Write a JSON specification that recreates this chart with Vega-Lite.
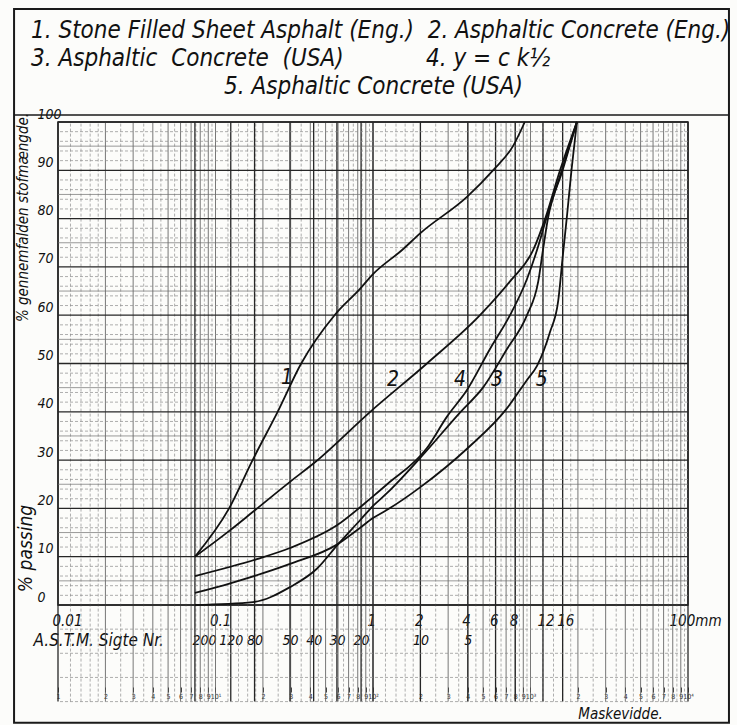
{
  "$schema": "https://vega.github.io/schema/vega-lite/v6.json",
  "width": 630,
  "height": 483,
  "autosize": {"type": "none"},
  "padding": {"left": 58, "top": 122, "right": 49, "bottom": 120},
  "background": "#fcfcfa",
  "config": {
    "font": "Liberation Sans Narrow, DejaVu Sans Condensed, Liberation Sans, sans-serif",
    "view": {"stroke": "#1a1a1a", "strokeWidth": 1.5},
    "axis": {"grid": false, "labelFontStyle": "italic", "titleFontStyle": "italic", "titleFontWeight": "normal", "labelColor": "#111", "titleColor": "#111"}
  },
  "title": {
    "text": ["1. Stone Filled Sheet Asphalt (Eng.)\u00a0\u00a02. Asphaltic Concrete (Eng.)", "3.\u00a0Asphaltic\u00a0\u00a0Concrete\u00a0\u00a0(USA)\u00a0\u00a0\u00a0\u00a0\u00a0\u00a0\u00a0\u00a0\u00a0\u00a0\u00a0\u00a04. y = c k\u00bd"],
    "anchor": "start",
    "frame": "group",
    "dx": -27,
    "dy": 67,
    "offset": 4,
    "fontSize": 24,
    "lineHeight": 28,
    "fontStyle": "italic",
    "fontWeight": "normal",
    "color": "#111"
  },
  "datasets": {
    "vminor": [
      {"v": 0.012}, {"v": 0.014}, {"v": 0.016}, {"v": 0.018}, {"v": 0.025}, {"v": 0.035}, {"v": 0.045}, {"v": 0.055}, {"v": 0.065}, {"v": 0.075}, {"v": 0.085}, {"v": 0.095},
      {"v": 0.12}, {"v": 0.14}, {"v": 0.16}, {"v": 0.18}, {"v": 0.25}, {"v": 0.35}, {"v": 0.45}, {"v": 0.55}, {"v": 0.65}, {"v": 0.75}, {"v": 0.85}, {"v": 0.95},
      {"v": 1.2}, {"v": 1.4}, {"v": 1.6}, {"v": 1.8}, {"v": 2.5}, {"v": 3.5}, {"v": 4.5}, {"v": 5.5}, {"v": 6.5}, {"v": 7.5}, {"v": 8.5}, {"v": 9.5},
      {"v": 12}, {"v": 14}, {"v": 16}, {"v": 18}, {"v": 25}, {"v": 35}, {"v": 45}, {"v": 55}, {"v": 65}, {"v": 75}, {"v": 85}, {"v": 95}
    ],
    "vmedium": [
      {"v": 0.02}, {"v": 0.03}, {"v": 0.04}, {"v": 0.05}, {"v": 0.06}, {"v": 0.07}, {"v": 0.08}, {"v": 0.09},
      {"v": 0.1}, {"v": 0.2}, {"v": 0.3}, {"v": 0.4}, {"v": 0.5}, {"v": 0.6}, {"v": 0.7}, {"v": 0.8}, {"v": 0.9},
      {"v": 1}, {"v": 2}, {"v": 3}, {"v": 4}, {"v": 5}, {"v": 6}, {"v": 7}, {"v": 8}, {"v": 9},
      {"v": 10}, {"v": 20}, {"v": 30}, {"v": 40}, {"v": 50}, {"v": 60}, {"v": 70}, {"v": 80}, {"v": 90}
    ],
    "vmajor": [
      {"v": 0.01}, {"v": 0.074}, {"v": 0.125}, {"v": 0.177}, {"v": 0.297}, {"v": 0.42}, {"v": 0.59}, {"v": 0.84}, {"v": 1}, {"v": 2}, {"v": 4}, {"v": 6}, {"v": 8}, {"v": 12}, {"v": 16}, {"v": 100}
    ],
    "hmajor": [
      {"h": 0}, {"h": 10}, {"h": 20}, {"h": 30}, {"h": 40}, {"h": 50}, {"h": 60}, {"h": 70}, {"h": 80}, {"h": 90}, {"h": 100}
    ],
    "hmid": [
      {"h": 5}, {"h": 15}, {"h": 25}, {"h": 35}, {"h": 45}, {"h": 55}, {"h": 65}, {"h": 75}, {"h": 85}, {"h": 95}
    ],
    "hminor": [
      {"h": 2}, {"h": 4}, {"h": 6}, {"h": 8}, {"h": 12}, {"h": 14}, {"h": 16}, {"h": 18}, {"h": 22}, {"h": 24}, {"h": 26}, {"h": 28},
      {"h": 32}, {"h": 34}, {"h": 36}, {"h": 38}, {"h": 42}, {"h": 44}, {"h": 46}, {"h": 48}, {"h": 52}, {"h": 54}, {"h": 56}, {"h": 58},
      {"h": 62}, {"h": 64}, {"h": 66}, {"h": 68}, {"h": 72}, {"h": 74}, {"h": 76}, {"h": 78}, {"h": 82}, {"h": 84}, {"h": 86}, {"h": 88},
      {"h": 92}, {"h": 94}, {"h": 96}, {"h": 98}
    ],
    "hbelow": [{"h": -5}, {"h": -10}, {"h": -15}, {"h": -20}],
    "curves": [
      {"curve": "1", "d": 0.074, "p": 10}, {"curve": "1", "d": 0.122, "p": 20}, {"curve": "1", "d": 0.172, "p": 30}, {"curve": "1", "d": 0.248, "p": 40},
      {"curve": "1", "d": 0.35, "p": 50}, {"curve": "1", "d": 0.57, "p": 60}, {"curve": "1", "d": 0.83, "p": 65.5}, {"curve": "1", "d": 1.0, "p": 68.5},
      {"curve": "1", "d": 1.53, "p": 73.5}, {"curve": "1", "d": 2.0, "p": 77}, {"curve": "1", "d": 3.95, "p": 84.5}, {"curve": "1", "d": 5.78, "p": 90},
      {"curve": "1", "d": 7.74, "p": 95}, {"curve": "1", "d": 9.2, "p": 100},
      {"curve": "2", "d": 0.074, "p": 10}, {"curve": "2", "d": 0.124, "p": 15.5}, {"curve": "2", "d": 0.173, "p": 19.3}, {"curve": "2", "d": 0.297, "p": 25.5},
      {"curve": "2", "d": 0.43, "p": 29.6}, {"curve": "2", "d": 0.96, "p": 40}, {"curve": "2", "d": 2.2, "p": 50}, {"curve": "2", "d": 4.78, "p": 60},
      {"curve": "2", "d": 7.41, "p": 67}, {"curve": "2", "d": 10.4, "p": 73.5}, {"curve": "2", "d": 12.4, "p": 80}, {"curve": "2", "d": 15.4, "p": 90},
      {"curve": "2", "d": 19.7, "p": 100},
      {"curve": "3", "d": 0.074, "p": 0}, {"curve": "3", "d": 0.173, "p": 0.6}, {"curve": "3", "d": 0.297, "p": 3.7}, {"curve": "3", "d": 0.44, "p": 7.5},
      {"curve": "3", "d": 0.59, "p": 12.3}, {"curve": "3", "d": 0.83, "p": 17.6}, {"curve": "3", "d": 1.0, "p": 20.5}, {"curve": "3", "d": 1.23, "p": 23.2},
      {"curve": "3", "d": 2.0, "p": 30.5}, {"curve": "3", "d": 3.6, "p": 40}, {"curve": "3", "d": 4.99, "p": 45}, {"curve": "3", "d": 7.09, "p": 53},
      {"curve": "3", "d": 9.5, "p": 60}, {"curve": "3", "d": 11.2, "p": 67}, {"curve": "3", "d": 12.0, "p": 73.5}, {"curve": "3", "d": 12.9, "p": 80},
      {"curve": "3", "d": 16.0, "p": 90}, {"curve": "3", "d": 19.7, "p": 100},
      {"curve": "4", "d": 0.074, "p": 6}, {"curve": "4", "d": 0.183, "p": 9.5}, {"curve": "4", "d": 0.297, "p": 11.8}, {"curve": "4", "d": 0.59, "p": 16.5},
      {"curve": "4", "d": 1.0, "p": 22.5}, {"curve": "4", "d": 1.23, "p": 25}, {"curve": "4", "d": 2.2, "p": 32.5}, {"curve": "4", "d": 2.95, "p": 39},
      {"curve": "4", "d": 3.95, "p": 44.5}, {"curve": "4", "d": 5.53, "p": 53}, {"curve": "4", "d": 7.41, "p": 60}, {"curve": "4", "d": 9.5, "p": 67.5},
      {"curve": "4", "d": 11.0, "p": 73.5}, {"curve": "4", "d": 12.6, "p": 80}, {"curve": "4", "d": 15.8, "p": 90}, {"curve": "4", "d": 19.7, "p": 100},
      {"curve": "5", "d": 0.074, "p": 2.5}, {"curve": "5", "d": 0.124, "p": 4.5}, {"curve": "5", "d": 0.297, "p": 8.5}, {"curve": "5", "d": 0.59, "p": 12.5},
      {"curve": "5", "d": 0.83, "p": 16}, {"curve": "5", "d": 1.0, "p": 18}, {"curve": "5", "d": 1.23, "p": 19.7}, {"curve": "5", "d": 2.0, "p": 24.4},
      {"curve": "5", "d": 4.0, "p": 32.5}, {"curve": "5", "d": 7.0, "p": 40.5}, {"curve": "5", "d": 9.5, "p": 46.6}, {"curve": "5", "d": 11.0, "p": 49.5},
      {"curve": "5", "d": 13.3, "p": 56.5}, {"curve": "5", "d": 15.0, "p": 63}, {"curve": "5", "d": 16.0, "p": 72}, {"curve": "5", "d": 17.1, "p": 81},
      {"curve": "5", "d": 18.2, "p": 90}, {"curve": "5", "d": 19.7, "p": 100}
    ],
    "labels": [
      {"t": "1", "d": 0.284, "p": 47}, {"t": "2", "d": 1.34, "p": 46.5}, {"t": "4", "d": 3.57, "p": 46.5}, {"t": "3", "d": 6.13, "p": 46.5}, {"t": "5", "d": 11.8, "p": 46.5}
    ]
  },
  "layer": [
    {
      "data": {"values": [{"frame": "outer"}]},
      "mark": {"type": "rect", "fill": null, "stroke": "#1a1a1a", "strokeWidth": 2},
      "encoding": {
        "x": {"datum": 0.00526, "type": "quantitative", "scale": {"type": "log", "domain": [0.01, 100], "nice": false}, "axis": null},
        "x2": {"datum": 182},
        "y": {"datum": -24.4, "type": "quantitative", "scale": {"domain": [0, 100], "nice": false, "zero": false}, "axis": null},
        "y2": {"datum": 123.4}
      }
    },
    {
      "data": {"values": [{"frame": "separator"}]},
      "mark": {"type": "rule", "stroke": "#1a1a1a", "strokeWidth": 1.5},
      "encoding": {
        "x": {"datum": 0.00526, "type": "quantitative", "scale": {"type": "log", "domain": [0.01, 100], "nice": false}, "axis": null},
        "x2": {"datum": 182},
        "y": {"datum": 101.45, "type": "quantitative", "scale": {"domain": [0, 100], "nice": false, "zero": false}, "axis": null}
      }
    },
    {
      "data": {"name": "vminor"},
      "mark": {"type": "rule", "stroke": "#8c8c8c", "strokeWidth": 0.7, "strokeDash": [3, 2]},
      "encoding": {
        "x": {"field": "v", "type": "quantitative", "scale": {"type": "log", "domain": [0.01, 100], "nice": false},
          "axis": {"orient": "bottom", "values": [0.01, 0.02, 0.03, 0.04, 0.05, 0.06, 0.07, 0.08, 0.09, 0.1, 0.2, 0.3, 0.4, 0.5, 0.6, 0.7, 0.8, 0.9, 1, 2, 3, 4, 5, 6, 7, 8, 9, 10, 20, 30, 40, 50, 60, 70, 80, 90, 100],
            "labelExpr": "abs(datum.value - 0.1) < 1e-6 ? '10\u00b9' : abs(datum.value - 1) < 1e-6 ? '10\u00b2' : abs(datum.value - 10) < 1e-6 ? '10\u00b3' : abs(datum.value - 100) < 1e-6 ? '10\u2074' : '' + round(datum.value / pow(10, floor(log(datum.value) / LN10 + 0.0001)))",
            "offset": 82, "domain": false, "ticks": true, "tickSize": 5, "tickColor": "#444", "labelPadding": 0, "labelFontSize": 7, "labelColor": "#333", "labelFontStyle": "normal",
            "labelFlush": false, "labelOverlap": false, "title": null}},
        "y": {"datum": -20, "type": "quantitative", "scale": {"domain": [0, 100], "nice": false, "zero": false}, "axis": null},
        "y2": {"datum": 100}
      }
    },
    {
      "data": {"name": "vmedium"},
      "mark": {"type": "rule", "stroke": "#555555", "strokeWidth": 0.8},
      "encoding": {
        "x": {"field": "v", "type": "quantitative", "scale": {"type": "log", "domain": [0.01, 100], "nice": false},
          "axis": {"orient": "bottom", "values": [0.074, 0.125, 0.177, 0.297, 0.42, 0.59, 0.84, 2, 4],
            "labelExpr": "datum.value < 0.08 ? '200' : datum.value < 0.15 ? '120' : datum.value < 0.2 ? '80' : datum.value < 0.35 ? '50' : datum.value < 0.5 ? '40' : datum.value < 0.7 ? '30' : datum.value < 0.9 ? '20' : datum.value < 3 ? '10' : '5'",
            "labelOffset": {"condition": {"test": "datum.value < 0.08", "value": 9}, "value": 0},
            "labelPadding": 28, "ticks": false, "domain": false, "labelFontSize": 14, "labelFlush": false, "labelOverlap": false,
            "title": "A.S.T.M. Sigte Nr.", "titleX": -25, "titleY": 27, "titleAlign": "left", "titleBaseline": "top", "titleFontSize": 17}},
        "y": {"datum": -20, "type": "quantitative", "scale": {"domain": [0, 100], "nice": false, "zero": false}, "axis": null},
        "y2": {"datum": 100}
      }
    },
    {
      "data": {"name": "vmajor"},
      "mark": {"type": "rule", "stroke": "#262626", "strokeWidth": 1.3},
      "encoding": {
        "x": {"field": "v", "type": "quantitative", "scale": {"type": "log", "domain": [0.01, 100], "nice": false},
          "axis": {"orient": "top", "labels": false, "ticks": false, "domain": false,
            "title": "5. Asphaltic Concrete (USA)", "titleFontSize": 24, "titleY": -29, "titleBaseline": "alphabetic", "titleAnchor": "middle"}},
        "y": {"datum": -20, "type": "quantitative", "scale": {"domain": [0, 100], "nice": false, "zero": false}, "axis": null},
        "y2": {"datum": 100}
      }
    },
    {
      "data": {"name": "hminor"},
      "mark": {"type": "rule", "stroke": "#8c8c8c", "strokeWidth": 0.7, "strokeDash": [3, 2]},
      "encoding": {
        "y": {"field": "h", "type": "quantitative", "scale": {"domain": [0, 100], "nice": false, "zero": false},
          "axis": {"orient": "left", "labels": false, "ticks": false, "domain": false,
            "title": "% gennemfalden stofmængde.", "titleX": -36, "titleY": 95, "titleAngle": -90, "titleAlign": "center", "titleBaseline": "middle", "titleFontSize": 15}}
      }
    },
    {
      "data": {"name": "hmid"},
      "mark": {"type": "rule", "stroke": "#6e6e6e", "strokeWidth": 0.7},
      "encoding": {
        "y": {"field": "h", "type": "quantitative", "scale": {"domain": [0, 100], "nice": false, "zero": false}, "axis": null}
      }
    },
    {
      "data": {"name": "hbelow"},
      "mark": {"type": "rule", "stroke": "#8c8c8c", "strokeWidth": 0.7, "strokeDash": [3, 2]},
      "encoding": {
        "y": {"field": "h", "type": "quantitative", "scale": {"domain": [0, 100], "nice": false, "zero": false}, "axis": null}
      }
    },
    {
      "data": {"name": "hmajor"},
      "mark": {"type": "rule", "stroke": "#262626", "strokeWidth": 1.3},
      "encoding": {
        "y": {"field": "h", "type": "quantitative", "scale": {"domain": [0, 100], "nice": false, "zero": false}, "axis": null}
      }
    },
    {
      "data": {"name": "curves"},
      "mark": {"type": "line", "color": "#111111", "strokeWidth": 1.8, "interpolate": "monotone"},
      "encoding": {
        "x": {"field": "d", "type": "quantitative", "scale": {"type": "log", "domain": [0.01, 100], "nice": false},
          "axis": {"orient": "bottom", "values": [0.01, 0.1, 1, 2, 4, 6, 8, 12, 16, 100], "format": ".2~f",
            "labelExpr": "datum.value == 100 ? '100mm' : datum.label",
            "labelAlign": {"condition": {"test": "datum.value == 100", "value": "center"}, "value": "left"},
            "labelOffset": {"condition": {"test": "datum.value == 100", "value": 7}, "value": -6},
            "labelPadding": 8, "ticks": false, "domain": false, "labelFontSize": 15, "labelFlush": false, "labelOverlap": false,
            "title": "Maskevidde.", "titleX": 562, "titleY": 108, "titleAlign": "center", "titleBaseline": "middle", "titleFontSize": 15}},
        "y": {"field": "p", "type": "quantitative", "scale": {"domain": [0, 100], "nice": false, "zero": false},
          "axis": {"orient": "left", "values": [0, 10, 20, 30, 40, 50, 60, 70, 80, 90, 100], "labelAlign": "left", "labelPadding": 21,
            "labelBaseline": "bottom", "labelOffset": -1, "ticks": false, "domain": false, "labelFontSize": 14,
            "title": "% passing", "titleX": -33, "titleY": 426, "titleAngle": -90, "titleAlign": "center", "titleBaseline": "middle", "titleFontSize": 19}},
        "detail": {"field": "curve", "type": "nominal"},
        "order": {"field": "d", "type": "quantitative"}
      }
    },
    {
      "data": {"name": "labels"},
      "mark": {"type": "text", "fontSize": 21, "fontStyle": "italic", "color": "#111", "align": "center", "baseline": "middle"},
      "encoding": {
        "x": {"field": "d", "type": "quantitative", "scale": {"type": "log", "domain": [0.01, 100], "nice": false}, "axis": null},
        "y": {"field": "p", "type": "quantitative", "scale": {"domain": [0, 100], "nice": false, "zero": false}, "axis": null},
        "text": {"field": "t"}
      }
    }
  ],
  "resolve": {"axis": {"x": "independent", "y": "independent"}}
}
